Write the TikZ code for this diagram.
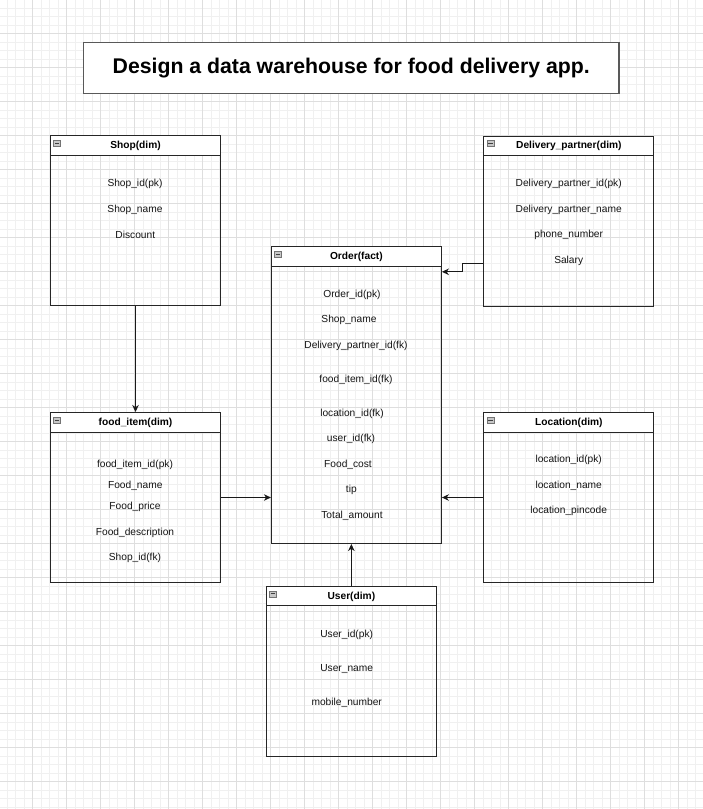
\documentclass[tikz,border=0pt]{standalone}
\usepackage{fontspec}
\setmainfont{Liberation Sans}
\usetikzlibrary{arrows.meta, positioning}

\tikzset{
  minorline/.style={draw=black!6, line width=0.6pt},
  majorline/.style={draw=black!13, line width=0.7pt},
  tablebox/.style={draw=black!85, line width=1pt, minimum width=170pt, minimum height=170pt, inner sep=0pt},
  tablehead/.style={draw=black!85, fill=white, line width=1pt, minimum width=170pt, minimum height=19.6pt, inner sep=0pt,
    text height=7.6pt, text depth=1.4pt, font=\bfseries\fontsize{10.2}{12}\selectfont, anchor=north},
  headicon/.style={draw=black!55, fill=black!22, line width=0.5pt, minimum width=7pt, minimum height=6pt, inner sep=0pt,
    path picture={\draw[black!75, line width=0.9pt] ([xshift=1.3pt]path picture bounding box.west) -- ([xshift=-1.3pt]path picture bounding box.east);}},
  field/.style={font=\fontsize{10.2}{12}\selectfont, inner sep=0pt, text=black!92, yshift=-1.3pt},
  link/.style={draw=black!90, line width=1pt, -{Stealth[length=7pt, width=6.5pt, inset=2.2pt]}},
}

\begin{document}
\begin{tikzpicture}[x=1pt, y=-1pt]
\useasboundingbox (0,0) rectangle (703,809);
\fill[white] (0,0) rectangle (703,809);

% grid
\foreach \k in {0,...,81} { \draw[minorline] ({7.2+8.5*\k},0) -- ({7.2+8.5*\k},809); }
\foreach \k in {0,...,94} { \draw[minorline] (0,{7.8+8.5*\k}) -- (703,{7.8+8.5*\k}); }
\foreach \k in {0,...,19} { \draw[majorline] ({32.7+34*\k},0) -- ({32.7+34*\k},809); }
\foreach \k in {0,...,22} { \draw[majorline] (0,{33.3+34*\k}) -- (703,{33.3+34*\k}); }

% title
\node[draw=black!65, fill=white, line width=1.2pt, minimum width=535.7pt, minimum height=51pt,
  font=\bfseries\fontsize{21.25}{25}\selectfont] (title) at (351.2,68.2) {Design a data warehouse for food delivery app.};

% tables
\node[tablebox] (shop) at (135.5,220.9) {};
\node[tablehead] (shophead) at (shop.north) {Shop(dim)};
\node[headicon] (shopicon) at ([xshift=7pt,yshift=-8pt]shop.north west) {};

\node[tablebox] (dp) at (568.85,221) {};
\node[tablehead] (dphead) at (dp.north) {Delivery\_partner(dim)};
\node[headicon] (dpicon) at ([xshift=7pt,yshift=-8pt]dp.north west) {};

\node[tablebox, minimum height=296.8pt] (order) at (356.4,395.1) {};
\node[tablehead] (orderhead) at (order.north) {Order(fact)};
\node[headicon] (ordericon) at ([xshift=7pt,yshift=-8pt]order.north west) {};

\node[tablebox] (food) at (135.5,497.5) {};
\node[tablehead] (foodhead) at (food.north) {food\_item(dim)};
\node[headicon] (foodicon) at ([xshift=7pt,yshift=-8pt]food.north west) {};

\node[tablebox] (loc) at (568.85,497.5) {};
\node[tablehead] (lochead) at (loc.north) {Location(dim)};
\node[headicon] (locicon) at ([xshift=7pt,yshift=-8pt]loc.north west) {};

\node[tablebox] (user) at (351.35,671.35) {};
\node[tablehead] (userhead) at (user.north) {User(dim)};
\node[headicon] (usericon) at ([xshift=7pt,yshift=-8pt]user.north west) {};

% fields
\node[field] (shopid) at (135,182.3) {Shop\_id(pk)};
\node[field] (shopname) at (135,208.7) {Shop\_name};
\node[field] (discount) at (135.3,233.3) {Discount};

\node[field] (dpid) at (568.7,182.7) {Delivery\_partner\_id(pk)};
\node[field] (dpname) at (568.7,209) {Delivery\_partner\_name};
\node[field] (phone) at (568.7,233.7) {phone\_number};
\node[field] (salary) at (568.7,259.3) {Salary};

\node[field] (orderid) at (352,293.3) {Order\_id(pk)};
\node[field] (ordshop) at (349,318.7) {Shop\_name};
\node[field] (orddp) at (356,344.7) {Delivery\_partner\_id(fk)};
\node[field] (ordfood) at (356,379) {food\_item\_id(fk)};
\node[field] (ordloc) at (352,412.7) {location\_id(fk)};
\node[field] (orduser) at (351,437.7) {user\_id(fk)};
\node[field] (foodcost) at (348,463.7) {Food\_cost};
\node[field] (tip) at (351.3,489) {tip};
\node[field] (total) at (352,514.3) {Total\_amount};

\node[field] (foodid) at (135,463.3) {food\_item\_id(pk)};
\node[field] (foodname) at (135.3,484.3) {Food\_name};
\node[field] (foodprice) at (135,505.7) {Food\_price};
\node[field] (fooddesc) at (135,531.3) {Food\_description};
\node[field] (foodshop) at (135,556.3) {Shop\_id(fk)};

\node[field] (locid) at (568.7,458.7) {location\_id(pk)};
\node[field] (locname) at (568.7,484.3) {location\_name};
\node[field] (locpin) at (568.7,509.7) {location\_pincode};

\node[field] (userid) at (346.7,633.3) {User\_id(pk)};
\node[field] (username) at (346.7,667.7) {User\_name};
\node[field] (mobile) at (346.7,701.3) {mobile\_number};

% links
\coordinate (dpout) at ([yshift=-42.3pt]dp.west);
\coordinate (ordin) at ([yshift=-25.6pt]order.north east);
\draw[link] (dpout) -- ++(-21,0) |- (ordin);
\draw[link] (shop.south) -- (food.north);
\draw[link] (food.east) -- (food.east -| order.west);
\draw[link] (loc.west) -- (loc.west -| order.east);
\draw[link] (user.north) -- (user.north |- order.south);
\end{tikzpicture}
\end{document}
